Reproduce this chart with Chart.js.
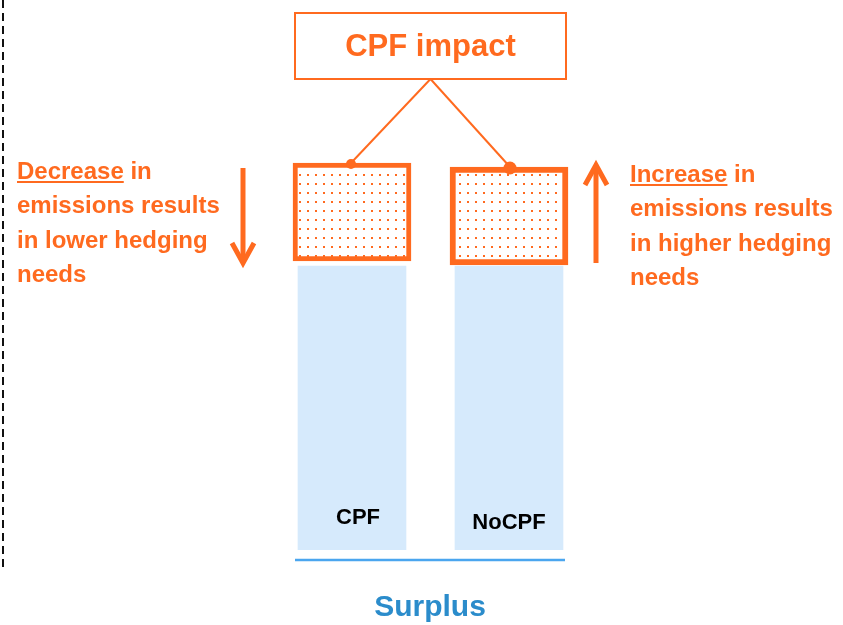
<!DOCTYPE html>
<html>
<head>
<meta charset="utf-8">
<script src="https://cdn.jsdelivr.net/npm/chart.js@4.4.0/dist/chart.umd.min.js"></script>
<style>
  html, body { margin: 0; padding: 0; background: #fff; }
</style>
</head>
<body>
<canvas id="diagram" width="843" height="625"></canvas>
<script>
// Data (arbitrary units, bottom of bars = 0)
const categories = ['CPF', 'NoCPF'];
const surplusBase = [28.4, 28.4];
const impactStart = [28.9, 28.5];
const impactEnd = [38.7, 38.3];

const leftNote = ['Decrease| in', 'emissions results', 'in lower hedging', 'needs'];
const rightNote = ['Increase| in', 'emissions results', 'in higher hedging', 'needs'];

const ORANGE = '#ff6a1f';
const LIGHT_BLUE = '#d6eafc';
const AXIS_BLUE = '#4ba6ef';
const TITLE_BLUE = '#2b8ccb';
const FONT = '"Liberation Sans", Arial, sans-serif';

// dotted fill for the impact boxes
function dotPattern() {
    const c = document.createElement('canvas');
    c.width = 8;
    c.height = 9;
    const g = c.getContext('2d');
    g.fillStyle = '#fff';
    g.fillRect(0, 0, 8, 9);
    g.fillStyle = ORANGE;
    g.fillRect(3, 3, 2, 2);
    return g.createPattern(c, 'repeat');
}

function drawNote(ctx, lines, x, y0, step) {
    ctx.font = 'bold 24px ' + FONT;
    ctx.fillStyle = ORANGE;
    ctx.strokeStyle = ORANGE;
    ctx.textAlign = 'left';
    ctx.textBaseline = 'alphabetic';
    lines.forEach((line, i) => {
        const y = y0 + i * step;
        const parts = line.split('|');
        ctx.fillText(parts[0], x, y);
        if (parts.length > 1) {
            const w = ctx.measureText(parts[0]).width;
            ctx.lineWidth = 2;
            ctx.beginPath();
            ctx.moveTo(x, y + 3);
            ctx.lineTo(x + w, y + 3);
            ctx.stroke();
            ctx.fillText(parts[1], x + w, y);
        }
    });
}

function arrow(ctx, x, yFrom, yTo) {
    const dir = yTo > yFrom ? 1 : -1;
    ctx.strokeStyle = ORANGE;
    ctx.lineWidth = 5;
    ctx.lineCap = 'butt';
    ctx.beginPath();
    ctx.moveTo(x, yFrom);
    ctx.lineTo(x, yTo - dir * 2);
    ctx.stroke();
    ctx.lineJoin = 'miter';
    ctx.beginPath();
    ctx.moveTo(x - 11, yTo - dir * 22);
    ctx.lineTo(x, yTo - dir * 2);
    ctx.lineTo(x + 11, yTo - dir * 22);
    ctx.stroke();
}

const decorations = {
    id: 'decorations',
    afterDraw(chart) {
        const ctx = chart.ctx;
        const base = chart.getDatasetMeta(0).data;
        const boxes = chart.getDatasetMeta(1).data;
        ctx.save();

        // dashed separator at the left edge
        ctx.strokeStyle = '#111';
        ctx.lineWidth = 2;
        ctx.setLineDash([8, 5]);
        ctx.beginPath();
        ctx.moveTo(3, 0);
        ctx.lineTo(3, 570);
        ctx.stroke();
        ctx.setLineDash([]);

        // axis line under the bars
        const x0 = base[0].x - base[0].width / 2 - 3;
        const x1 = base[1].x + base[1].width / 2 + 2;
        ctx.strokeStyle = AXIS_BLUE;
        ctx.lineWidth = 2.5;
        ctx.beginPath();
        ctx.moveTo(x0, 560);
        ctx.lineTo(x1, 560);
        ctx.stroke();

        ctx.fillStyle = TITLE_BLUE;
        ctx.font = 'bold 30px ' + FONT;
        ctx.textAlign = 'center';
        ctx.textBaseline = 'middle';
        ctx.fillText('Surplus', (x0 + x1) / 2, 608);

        // category labels inside the bars
        ctx.fillStyle = '#000';
        ctx.font = 'bold 22px ' + FONT;
        ctx.fillText(categories[0], base[0].x + 6, 518);
        ctx.fillText(categories[1], base[1].x, 523);

        // "CPF impact" box and connectors
        const bx = 295, by = 13, bw = 271, bh = 66;
        const cx = bx + bw / 2;
        ctx.strokeStyle = ORANGE;
        ctx.lineWidth = 2;
        ctx.strokeRect(bx, by, bw, bh);
        ctx.fillStyle = ORANGE;
        ctx.font = 'bold 31px ' + FONT;
        ctx.fillText('CPF impact', cx, by + bh / 2 + 1);

        ctx.lineWidth = 2;
        boxes.forEach((b, i) => {
            const tx = i === 0 ? b.x - 1 : b.x + 1;
            ctx.beginPath();
            ctx.moveTo(cx, by + bh);
            ctx.lineTo(tx, b.y);
            ctx.stroke();
            ctx.beginPath();
            ctx.arc(tx, b.y + 1, i === 0 ? 5 : 6.5, 0, Math.PI * 2);
            ctx.fill();
        });

        // side notes with arrows
        drawNote(ctx, leftNote, 17, 179, 34.3);
        drawNote(ctx, rightNote, 630, 182, 34.3);
        arrow(ctx, 243, 168, 265);
        arrow(ctx, 596, 263, 163);

        ctx.restore();
    }
};

new Chart(document.getElementById('diagram'), {
    type: 'bar',
    data: {
        labels: categories,
        datasets: [{
            label: 'Surplus',
            data: surplusBase,
            backgroundColor: LIGHT_BLUE,
            borderWidth: 0,
            barThickness: 108
        }, {
            label: 'CPF impact',
            data: impactStart.map((s, i) => [s, impactEnd[i]]),
            backgroundColor: dotPattern(),
            borderColor: ORANGE,
            borderWidth: [5, 6],
            borderSkipped: false,
            barThickness: 118
        }]
    },
    options: {
        responsive: false,
        animation: false,
        events: [],
        layout: {
            padding: { left: 273.5, right: 255.5, top: 10, bottom: 75 }
        },
        scales: {
            x: { stacked: true, display: false, offset: true },
            y: { min: 0, max: 54, display: false }
        },
        plugins: {
            legend: { display: false },
            tooltip: { enabled: false }
        }
    },
    plugins: [decorations]
});
</script>
</body>
</html>
